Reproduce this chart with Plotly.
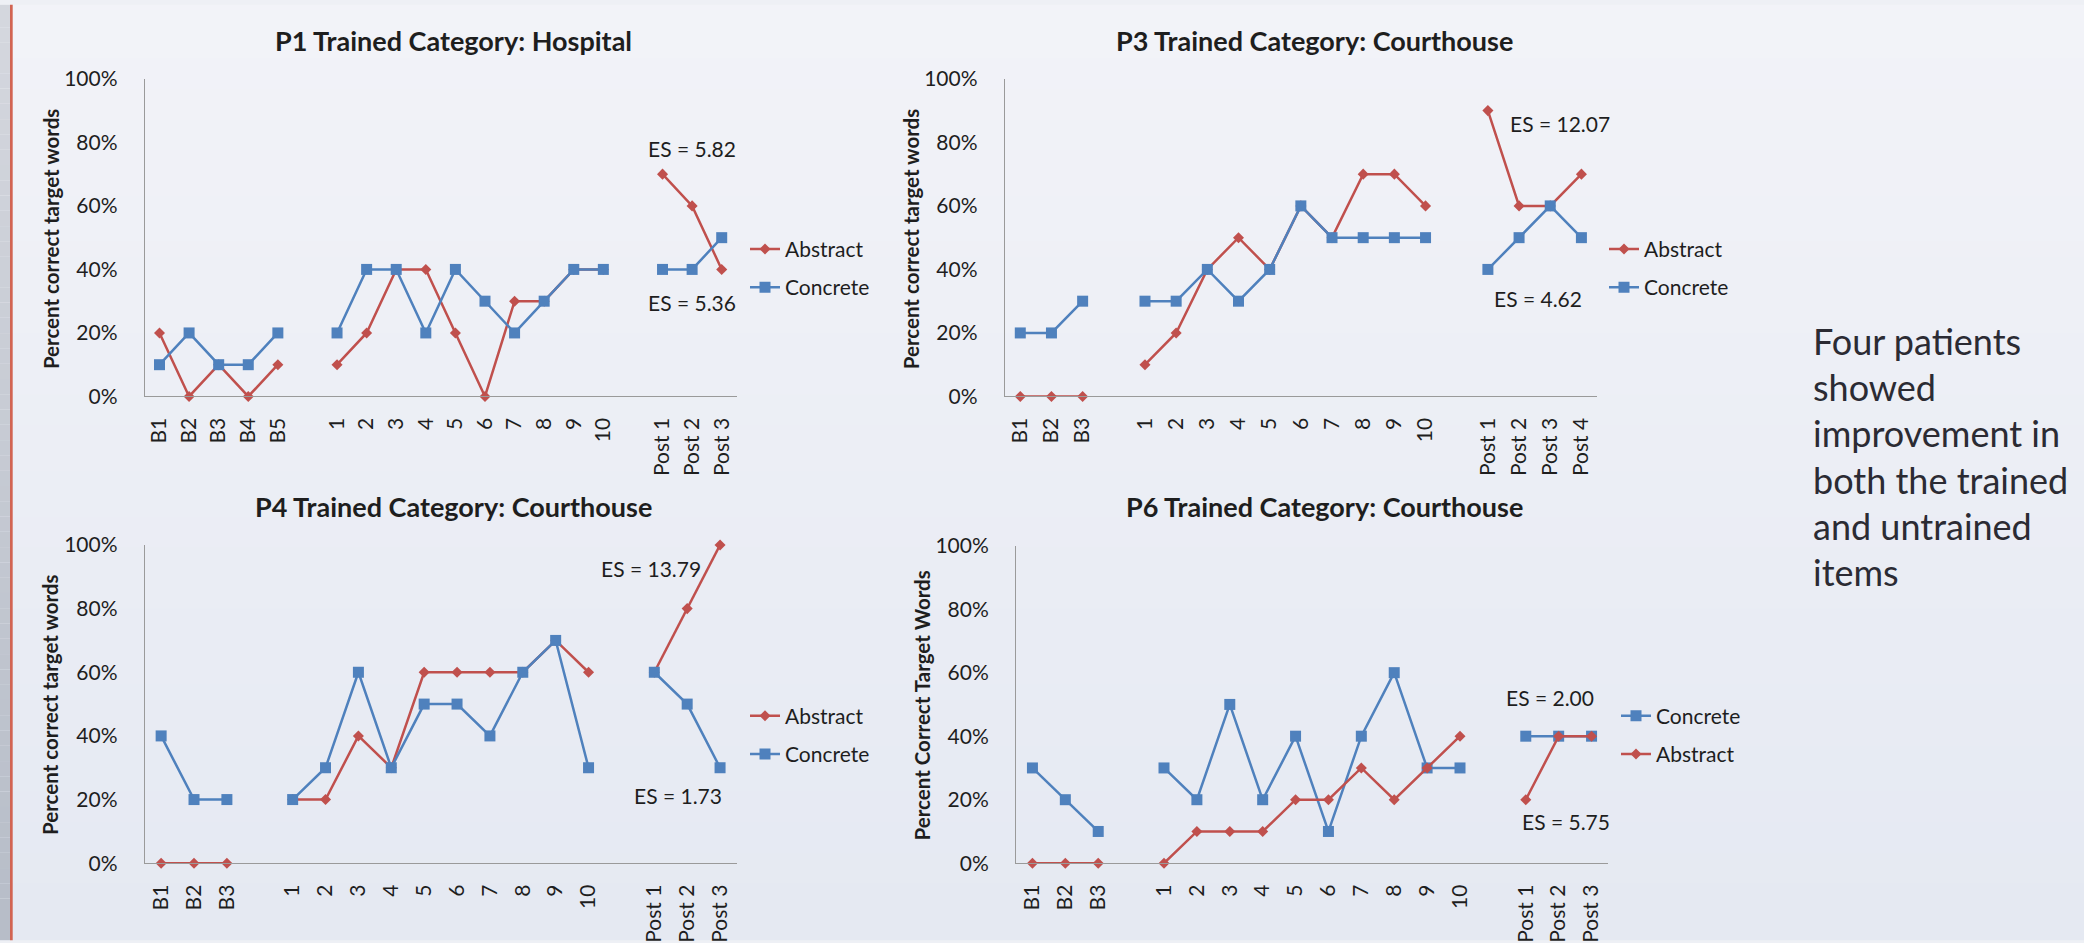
import plotly.graph_objects as go

# ---------------- data: percent correct target words ----------------
tx_labels = [str(i) for i in range(1, 11)]

# P1 - trained category: Hospital
p1_base_labels = ["B1", "B2", "B3", "B4", "B5"]
p1_post_labels = ["Post 1", "Post 2", "Post 3"]
p1_abstract_base = [20, 0, 10, 0, 10]
p1_abstract_tx = [10, 20, 40, 40, 20, 0, 30, 30, 40, 40]
p1_abstract_post = [70, 60, 40]
p1_concrete_base = [10, 20, 10, 10, 20]
p1_concrete_tx = [20, 40, 40, 20, 40, 30, 20, 30, 40, 40]
p1_concrete_post = [40, 40, 50]

# P3 - trained category: Courthouse
p3_base_labels = ["B1", "B2", "B3"]
p3_post_labels = ["Post 1", "Post 2", "Post 3", "Post 4"]
p3_abstract_base = [0, 0, 0]
p3_abstract_tx = [10, 20, 40, 50, 40, 60, 50, 70, 70, 60]
p3_abstract_post = [90, 60, 60, 70]
p3_concrete_base = [20, 20, 30]
p3_concrete_tx = [30, 30, 40, 30, 40, 60, 50, 50, 50, 50]
p3_concrete_post = [40, 50, 60, 50]

# P4 - trained category: Courthouse
p4_base_labels = ["B1", "B2", "B3"]
p4_post_labels = ["Post 1", "Post 2", "Post 3"]
p4_abstract_base = [0, 0, 0]
p4_abstract_tx = [20, 20, 40, 30, 60, 60, 60, 60, 70, 60]
p4_abstract_post = [60, 80, 100]
p4_concrete_base = [40, 20, 20]
p4_concrete_tx = [20, 30, 60, 30, 50, 50, 40, 60, 70, 30]
p4_concrete_post = [60, 50, 30]

# P6 - trained category: Courthouse
p6_base_labels = ["B1", "B2", "B3"]
p6_post_labels = ["Post 1", "Post 2", "Post 3"]
p6_concrete_base = [30, 20, 10]
p6_concrete_tx = [30, 20, 50, 20, 40, 10, 40, 60, 30, 30]
p6_concrete_post = [40, 40, 40]
p6_abstract_base = [0, 0, 0]
p6_abstract_tx = [0, 10, 10, 10, 20, 20, 30, 20, 30, 40]
p6_abstract_post = [20, 40, 40]

# effect sizes: (text, x slot, y value)
p1_es = [("ES = 5.82", 18, 78), ("ES = 5.36", 18, 29.5)]
p3_es = [("ES = 12.07", 17.3, 85.8), ("ES = 4.62", 16.6, 31)]
p4_es = [("ES = 13.79", 14.9, 92.7), ("ES = 1.73", 15.72, 21.2)]
p6_es = [("ES = 2.00", 15.74, 52.1), ("ES = 5.75", 16.22, 13.0)]

side_lines = ["Four patients", "showed", "improvement in", "both the trained",
              "and untrained", "items"]

# ---------------- styling ----------------
W, H = 2084, 943
RED = "#c0504d"
BLUE = "#4f81bd"
AXIS = "#9a9a9a"
TXT = "#1e1e1e"
FONT = "Lato, 'Open Sans', sans-serif"


def px(x):
    return x / W


def py(y):
    return 1 - y / H


def build(phase_labels, phase_values):
    """Lay phases out on a category axis with one empty slot between phases."""
    xs, ys, tv, tt = [], [], [], []
    pos = 0
    for k, (labs, vals) in enumerate(zip(phase_labels, phase_values)):
        if k > 0:
            xs.append(pos)
            ys.append(None)
            pos += 1
        for lab, v in zip(labs, vals):
            xs.append(pos)
            ys.append(v)
            tv.append(pos)
            tt.append(lab)
            pos += 1
    return xs, ys, tv, tt, pos


panels = [
    dict(title="P1 Trained Category: Hospital", ytitle="Percent correct target words",
         labels=[p1_base_labels, tx_labels, p1_post_labels],
         series=[("Abstract", [p1_abstract_base, p1_abstract_tx, p1_abstract_post]),
                 ("Concrete", [p1_concrete_base, p1_concrete_tx, p1_concrete_post])],
         es=p1_es, dom=(144.7, 736.5, 66.7, 393.3), title_xy=(453, 27),
         ytitle_xy=(50.5, 232), legend_xy=(745, 261.5)),
    dict(title="P3 Trained Category: Courthouse", ytitle="Percent correct target words",
         labels=[p3_base_labels, tx_labels, p3_post_labels],
         series=[("Abstract", [p3_abstract_base, p3_abstract_tx, p3_abstract_post]),
                 ("Concrete", [p3_concrete_base, p3_concrete_tx, p3_concrete_post])],
         es=p3_es, dom=(1004.7, 1597, 66.7, 393.3), title_xy=(1314, 27),
         ytitle_xy=(910.6, 232), legend_xy=(1604, 261.5)),
    dict(title="P4 Trained Category: Courthouse", ytitle="Percent correct target words",
         labels=[p4_base_labels, tx_labels, p4_post_labels],
         series=[("Abstract", [p4_abstract_base, p4_abstract_tx, p4_abstract_post]),
                 ("Concrete", [p4_concrete_base, p4_concrete_tx, p4_concrete_post])],
         es=p4_es, dom=(144.7, 736.5, 546, 873.3), title_xy=(453, 506.7),
         ytitle_xy=(50.5, 711), legend_xy=(745, 741.5)),
    dict(title="P6 Trained Category: Courthouse", ytitle="Percent Correct Target Words",
         labels=[p6_base_labels, tx_labels, p6_post_labels],
         series=[("Concrete", [p6_concrete_base, p6_concrete_tx, p6_concrete_post]),
                 ("Abstract", [p6_abstract_base, p6_abstract_tx, p6_abstract_post])],
         es=p6_es, dom=(1016, 1608, 546.7, 873.3), title_xy=(1324, 506.7),
         ytitle_xy=(922, 711), legend_xy=(1616, 741.5)),
]

fig = go.Figure()
annotations = []
shapes = []

# slide background: soft vertical gradient, grey left strip and red rule
N_BANDS = 60
top_bg, bot_bg = (242, 243, 248), (229, 233, 242)
top_strip, bot_strip = (212, 215, 222), (183, 189, 200)
band = 1 / N_BANDS
for i in range(N_BANDS):
    t = i / (N_BANDS - 1)
    c = tuple(round(a + (b - a) * t) for a, b in zip(top_bg, bot_bg))
    s = tuple(round(a + (b - a) * t) for a, b in zip(top_strip, bot_strip))
    y_hi = 1.01 if i == 0 else 1 - i * band + 0.002
    y_lo = -0.01 if i == N_BANDS - 1 else 1 - (i + 1) * band
    shapes.append(dict(type="rect", xref="paper", yref="paper", x0=-0.01, x1=1.01,
                       y0=y_lo, y1=y_hi, fillcolor=f"rgb{c}", line_width=0, layer="below"))
    shapes.append(dict(type="rect", xref="paper", yref="paper", x0=-0.01, x1=px(10),
                       y0=y_lo, y1=y_hi, fillcolor=f"rgb{s}", line_width=0, layer="below"))
shapes.append(dict(type="rect", xref="paper", yref="paper", x0=px(10), x1=px(12.7),
                   y0=-0.01, y1=1.01, fillcolor="#d26452", line_width=0, layer="below"))

layout_axes = {}
for k, p in enumerate(panels, start=1):
    xa = "x" if k == 1 else f"x{k}"
    ya = "y" if k == 1 else f"y{k}"
    leg = "legend" if k == 1 else f"legend{k}"
    n_slots = 0
    tickvals = ticktext = None
    for name, values in p["series"]:
        xs, ys, tickvals, ticktext, n_slots = build(p["labels"], values)
        color = RED if name == "Abstract" else BLUE
        symbol = "diamond" if name == "Abstract" else "square"
        msize = 8.5 if name == "Abstract" else 11
        fig.add_trace(go.Scatter(
            x=xs, y=ys, name=name, mode="lines+markers", xaxis=xa, yaxis=ya,
            line=dict(color=color, width=2.5), connectgaps=False,
            marker=dict(symbol=symbol, size=msize, color=color),
            cliponaxis=False, legend=leg, legendgroup=f"{k}-{name}",
            hoverinfo="skip"))

    x0, x1, yt, yb = p["dom"]
    layout_axes["xaxis" if k == 1 else f"xaxis{k}"] = dict(
        domain=[px(x0), px(x1)], anchor=ya, range=[-0.5, n_slots - 0.5],
        tickvals=tickvals, ticktext=ticktext, tickangle=-90,
        showline=True, linecolor=AXIS, linewidth=1, showgrid=False, zeroline=False,
        ticks="", ticklabelstandoff=12, tickfont=dict(family=FONT, size=21, color=TXT))
    layout_axes["yaxis" if k == 1 else f"yaxis{k}"] = dict(
        domain=[py(yb), py(yt)], anchor=xa, range=[0, 100], dtick=20, ticksuffix="%",
        showline=True, linecolor=AXIS, linewidth=1, showgrid=False, zeroline=False,
        ticks="", ticklabelstandoff=22, tickfont=dict(family=FONT, size=21, color=TXT))

    lx, ly = p["legend_xy"]
    layout_axes[leg] = dict(
        x=px(lx), y=py(ly), xanchor="left", yanchor="middle", bgcolor="rgba(0,0,0,0)",
        font=dict(family=FONT, size=21, color=TXT), itemwidth=30, tracegroupgap=8,
        traceorder="grouped")

    tx, ty = p["title_xy"]
    annotations.append(dict(text=f"<b>{p['title']}</b>", x=px(tx), y=py(ty), xref="paper",
                            yref="paper", showarrow=False, xanchor="center", yanchor="middle",
                            font=dict(family=FONT, size=27, color=TXT)))
    yx, yy = p["ytitle_xy"]
    annotations.append(dict(text=f"<b>{p['ytitle']}</b>", x=px(yx), y=py(yy), xref="paper",
                            yref="paper", showarrow=False, textangle=-90, xanchor="center",
                            yanchor="middle", font=dict(family=FONT, size=20.5, color=TXT)))
    for text, ex, ey in p["es"]:
        annotations.append(dict(text=text, x=ex, y=ey, xref=xa, yref=ya, showarrow=False,
                                xanchor="center", yanchor="middle",
                                font=dict(family=FONT, size=21, color=TXT)))

# explanatory text at the right of the slide
for i, line in enumerate(side_lines):
    annotations.append(dict(text=line, x=px(1811), y=py(336 + i * 47.6), xref="paper",
                            yref="paper", showarrow=False, xanchor="left", yanchor="middle",
                            font=dict(family=FONT, size=36, color="#2b2b33")))

fig.update_layout(
    width=W, height=H, margin=dict(l=0, r=0, t=0, b=0),
    paper_bgcolor="#eef0f5", plot_bgcolor="rgba(0,0,0,0)",
    showlegend=True, shapes=shapes, annotations=annotations, **layout_axes)

fig.write_html("out.html")
